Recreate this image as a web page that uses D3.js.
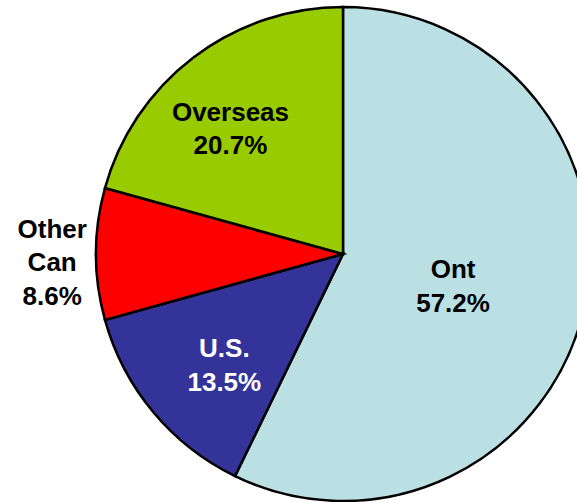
<html>
<head>
<script src="https://d3js.org/d3.v7.min.js"></script>
<style>
  body { margin: 0; background: white; }
  svg { font-family: "Liberation Sans", Arial, sans-serif; font-weight: bold; }
</style>
</head>
<body>
<svg width="577" height="502" id="chart"></svg>
<script>
  // slice data, clockwise from 12 o'clock
  var categories = ["Ont", "U.S.", "Other Can", "Overseas"];
  var shares = [57.2, 13.5, 8.6, 20.7];
  var sliceColors = ["#BAE0E3", "#333399", "#FF0000", "#99CC00"];
  var labelColors = ["#000000", "#FFFFFF", "#000000", "#000000"];
  // label lines as printed on the chart
  var labelLines = [["Ont", "57.2%"], ["U.S.", "13.5%"], ["Other", "Can", "8.6%"], ["Overseas", "20.7%"]];

  var cx = 343, cy = 254, radius = 247;

  var data = categories.map(function(c, i) { return {name: c, value: shares[i], i: i}; });

  var pie = d3.pie().sort(null).value(function(d) { return d.value; });
  var arc = d3.arc().innerRadius(0).outerRadius(radius);
  var color = d3.scaleOrdinal().domain(categories).range(sliceColors);

  var g = d3.select("#chart")
    .append("g")
    .attr("transform", "translate(" + cx + "," + cy + ")");

  g.selectAll("path")
    .data(pie(data))
    .enter()
    .append("path")
      .attr("d", arc)
      .attr("fill", function(d) { return color(d.data.name); })
      .attr("stroke", "#000")
      .attr("stroke-width", 2.5)
      .attr("stroke-linejoin", "miter");

  // label anchors: radial distance (fraction of radius) and angle nudge (deg) from slice middle
  var labelRadius = [0.465, 0.66, 1.178, 0.68];
  var labelNudge = [3.7, -3.5, -1.8, -4.8];
  var lineHeight = 33.5;

  var labels = g.selectAll("text.lbl")
    .data(pie(data))
    .enter()
    .append("text")
      .attr("class", "lbl")
      .attr("text-anchor", "middle")
      .style("font-size", "26px")
      .attr("fill", function(d) { return labelColors[d.data.i]; })
      .attr("transform", function(d) {
        var a = (d.startAngle + d.endAngle) / 2 + labelNudge[d.data.i] * Math.PI / 180;
        var r = radius * labelRadius[d.data.i];
        return "translate(" + (Math.sin(a) * r) + "," + (-Math.cos(a) * r) + ")";
      });

  labels.each(function(d) {
    var lines = labelLines[d.data.i];
    var t = d3.select(this);
    var y0 = -((lines.length - 1) * lineHeight) / 2 + 8;
    lines.forEach(function(l, k) {
      t.append("tspan").attr("x", 0).attr("y", y0 + k * lineHeight).text(l);
    });
  });
</script>
</body>
</html>
